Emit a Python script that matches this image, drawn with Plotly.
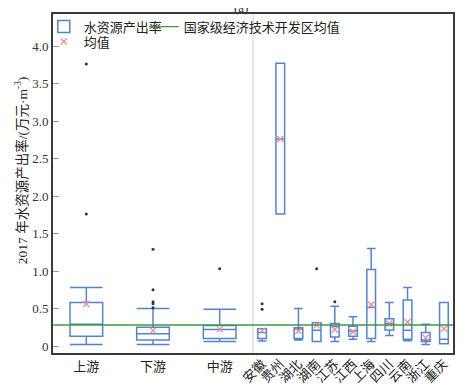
import plotly.graph_objects as go

# ---------------- data ----------------
left_cats = ["上游", "下游", "中游"]
left_lower = [0.02, 0.02, 0.06]
left_q1 = [0.13, 0.08, 0.10]
left_median = [0.29, 0.165, 0.22]
left_q3 = [0.58, 0.25, 0.275]
left_upper = [0.78, 0.50, 0.49]
left_mean = [0.56, 0.205, 0.225]
left_outliers = [[3.76, 1.76], [1.29, 0.75, 0.59, 0.565, 0.51], [1.03]]

right_cats = ["安徽", "贵州", "湖北", "湖南", "江苏", "江西", "上海", "四川", "云南", "浙江", "重庆"]
right_lower = [0.067, 1.76, 0.08, 0.06, 0.06, 0.09, 0.06, 0.14, 0.07, 0.02, 0.03]
right_q1 = [0.10, 1.76, 0.10, 0.06, 0.12, 0.13, 0.10, 0.215, 0.09, 0.06, 0.03]
right_median = [0.18, 2.76, 0.225, 0.21, 0.26, 0.20, 0.515, 0.30, 0.21, 0.08, 0.09]
right_q3 = [0.23, 3.77, 0.245, 0.31, 0.30, 0.265, 1.02, 0.365, 0.615, 0.18, 0.58]
right_upper = [0.23, 3.77, 0.50, 0.31, 0.53, 0.39, 1.30, 0.58, 0.78, 0.29, 0.58]
right_mean = [0.205, 2.76, 0.20, 0.275, 0.22, 0.19, 0.55, 0.30, 0.32, 0.11, 0.23]
right_outliers = [[0.565, 0.49], [], [], [1.03], [0.59], [], [], [], [], [], []]

national_mean = 0.28

y_ticks = [0, 0.5, 1.0, 1.5, 2.0, 2.5, 3.0, 3.5, 4.0]
y_ticktext = ["0", "0.5", "1.0", "1.5", "2.0", "2.5", "3.0", "3.5", "4.0"]
y_title = "2017 年水资源产出率/(万元·m<sup>-3</sup>)"

# ---------------- layout helpers ----------------
X_MIN, X_MAX = 0, 6
left_pos = [i + 0.5 for i in range(len(left_cats))]
n_r = len(right_cats)
right_pos = [3 + (i + 0.5) * 3 / n_r for i in range(n_r)]

BOX_COLOR = "#5585c8"
MEAN_COLOR = "#ef8a9a"
FONT = "Liberation Serif, Noto Sans CJK SC"

fig = go.Figure()

fig.add_trace(go.Box(
    x=left_pos, q1=left_q1, median=left_median, q3=left_q3,
    lowerfence=left_lower, upperfence=left_upper,
    width=0.49, whiskerwidth=1, orientation="v",
    line=dict(color=BOX_COLOR, width=1.5), fillcolor="rgba(255,255,255,0)",
    name="水资源产出率", legend="legend", showlegend=True, hoverinfo="skip",
))
fig.add_trace(go.Box(
    x=right_pos, q1=right_q1, median=right_median, q3=right_q3,
    lowerfence=right_lower, upperfence=right_upper,
    width=0.13, whiskerwidth=1, orientation="v",
    line=dict(color=BOX_COLOR, width=1.5), fillcolor="rgba(255,255,255,0)",
    name="水资源产出率", legend="legend", showlegend=False, hoverinfo="skip",
))

# outliers
ox, oy = [], []
for p, vals in zip(left_pos + right_pos, left_outliers + right_outliers):
    for v in vals:
        ox.append(p)
        oy.append(v)
fig.add_trace(go.Scatter(
    x=ox, y=oy, mode="markers", marker=dict(color="#333333", size=3),
    showlegend=False, hoverinfo="skip",
))

# national mean line (on overlay axis x2)
fig.add_trace(go.Scatter(
    x=[X_MIN, X_MAX], y=[national_mean, national_mean], xaxis="x2", mode="lines",
    line=dict(color="#3f9a3f", width=1.3),
    name="国家级经济技术开发区均值", legend="legend2", showlegend=True, hoverinfo="skip",
))

# means
fig.add_trace(go.Scatter(
    x=left_pos + right_pos, y=left_mean + right_mean, mode="markers",
    marker=dict(symbol="x-thin", size=6, line=dict(color=MEAN_COLOR, width=1.3), color=MEAN_COLOR),
    name="均值", legend="legend3", showlegend=True, hoverinfo="skip",
))

# separator between groups
fig.add_shape(type="line", xref="x", yref="paper", x0=3, x1=3, y0=0, y1=1,
              line=dict(color="#e6e6e6", width=2), layer="below")

legend_common = dict(
    orientation="h", xanchor="left", yanchor="top", bgcolor="rgba(0,0,0,0)",
    font=dict(family=FONT, size=13, color="#222"), itemwidth=30,
)

# the page body adds an 8px offset, so the figure is 8px smaller than the window
fig.update_layout(
    width=467, height=379,
    margin=dict(l=45, r=22, t=6, b=34, autoexpand=False),
    paper_bgcolor="white", plot_bgcolor="white",
    font=dict(family=FONT, size=13, color="#333"),
    legend=dict(x=-0.023, y=1.007, **legend_common),
    legend2=dict(x=0.227, y=1.007, **legend_common),
    legend3=dict(x=-0.023, y=0.963, **legend_common),
    xaxis=dict(
        range=[X_MIN, X_MAX], tickvals=left_pos, ticktext=left_cats, tickangle=0,
        showgrid=False, zeroline=False, ticks="", automargin=False,
        showline=True, mirror=True, linecolor="#3a3a3a", linewidth=2,
        tickfont=dict(family=FONT, size=13, color="#222"),
    ),
    xaxis2=dict(
        range=[X_MIN, X_MAX], overlaying="x", anchor="y", side="bottom",
        tickvals=right_pos, ticktext=right_cats, tickangle=-45, automargin=False,
        showgrid=False, zeroline=False, ticks="", showline=False,
        tickfont=dict(family=FONT, size=13, color="#222"),
    ),
    yaxis=dict(
        range=[-0.093, 4.427], tickvals=y_ticks, ticktext=y_ticktext,
        showgrid=False, zeroline=False, automargin=False,
        ticks="inside", ticklen=6, tickcolor="#999", tickwidth=1,
        showline=True, mirror=True, linecolor="#3a3a3a", linewidth=2,
        tickfont=dict(family=FONT, size=13, color="#333"),
    ),
)

# y-axis title (placed as rotated text, slightly above the plot centre as in the reference)
fig.add_annotation(text=y_title, xref="paper", yref="paper", x=-0.077, y=0.54,
                   textangle=-90, showarrow=False, xanchor="center", yanchor="middle",
                   font=dict(family=FONT, size=13.5, color="#222"))

fig.add_annotation(text="(a)", xref="paper", yref="paper", x=0.47, y=1.047,
                   showarrow=False, font=dict(family=FONT, size=13, color="#333"))

fig.write_html("out.html")
